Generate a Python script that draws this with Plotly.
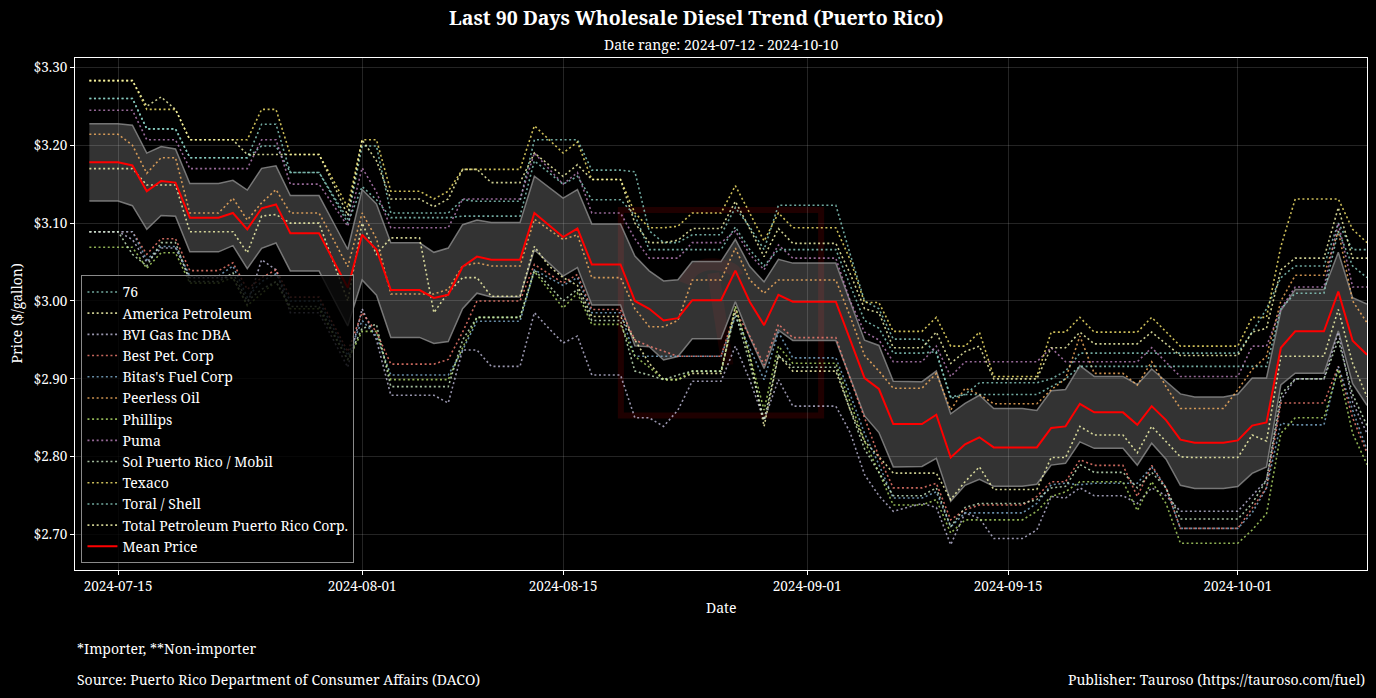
import numpy as np
import plotly.graph_objects as go

# ---------------- data ----------------
dates = [
    "2024-07-13",
    "2024-07-15", "2024-07-16", "2024-07-17", "2024-07-18", "2024-07-19", "2024-07-20",
    "2024-07-22", "2024-07-23", "2024-07-24", "2024-07-25", "2024-07-26", "2024-07-27",
    "2024-07-29", "2024-07-30", "2024-07-31", "2024-08-01", "2024-08-02", "2024-08-03",
    "2024-08-05", "2024-08-06", "2024-08-07", "2024-08-08", "2024-08-09", "2024-08-10",
    "2024-08-12", "2024-08-13", "2024-08-14", "2024-08-15", "2024-08-16", "2024-08-17",
    "2024-08-19", "2024-08-20", "2024-08-21", "2024-08-22", "2024-08-23", "2024-08-24",
    "2024-08-26", "2024-08-27", "2024-08-28", "2024-08-29", "2024-08-30", "2024-08-31",
    "2024-09-02", "2024-09-03", "2024-09-04", "2024-09-05", "2024-09-06", "2024-09-07",
    "2024-09-09", "2024-09-10", "2024-09-11", "2024-09-12", "2024-09-13", "2024-09-14",
    "2024-09-16", "2024-09-17", "2024-09-18", "2024-09-19", "2024-09-20", "2024-09-21",
    "2024-09-23", "2024-09-24", "2024-09-25", "2024-09-26", "2024-09-27", "2024-09-28",
    "2024-09-30", "2024-10-01", "2024-10-02", "2024-10-03", "2024-10-04", "2024-10-05",
    "2024-10-07", "2024-10-08", "2024-10-09", "2024-10-10",
]

price_76 = [
    3.260,
    3.260, 3.260, 3.221, 3.221, 3.221, 3.184,
    3.184, 3.184, 3.184, 3.199, 3.199, 3.165,
    3.165, 3.135, 3.105, 3.199, 3.199, 3.113,
    3.113, 3.113, 3.113, 3.130, 3.128, 3.128,
    3.128, 3.207, 3.207, 3.207, 3.207, 3.168,
    3.168, 3.166, 3.090, 3.075, 3.075, 3.085,
    3.085, 3.120, 3.095, 3.066, 3.123, 3.123,
    3.123, 3.123, 3.060, 3.000, 2.990, 2.951,
    2.951, 2.933, 2.877, 2.880, 2.895, 2.895,
    2.895, 2.895, 2.900, 2.910, 2.933, 2.933,
    2.933, 2.933, 2.933, 2.933, 2.933, 2.933,
    2.933, 2.933, 2.960, 2.990, 3.030, 3.045,
    3.045, 3.100, 3.066, 3.066,
]
price_america = [
    3.170,
    3.170, 3.170, 3.149, 3.149, 3.149, 3.089,
    3.089, 3.089, 3.062, 3.109, 3.111, 3.100,
    3.100, 3.050, 3.000, 3.100, 3.060, 3.081,
    3.081, 2.985, 3.011, 3.030, 3.030, 3.006,
    3.006, 3.070, 3.045, 3.030, 3.020, 2.980,
    2.980, 2.950, 2.920, 2.899, 2.899, 2.907,
    2.907, 2.993, 2.930, 2.839, 2.930, 2.910,
    2.910, 2.910, 2.860, 2.820, 2.800, 2.779,
    2.779, 2.779, 2.745, 2.768, 2.787, 2.758,
    2.758, 2.758, 2.799, 2.799, 2.839, 2.828,
    2.828, 2.805, 2.839, 2.820, 2.800, 2.799,
    2.799, 2.799, 2.828, 2.820, 2.929, 2.929,
    2.929, 2.989, 2.920, 2.877,
]
price_bvi = [
    3.089,
    3.089, 3.079, 3.050, 3.068, 3.068, 3.030,
    3.030, 3.030, 2.995, 3.053, 3.040, 2.985,
    2.985, 2.950, 2.915, 2.990, 2.950, 2.879,
    2.879, 2.879, 2.869, 2.937, 2.937, 2.916,
    2.916, 2.985, 2.965, 2.946, 2.955, 2.905,
    2.905, 2.850, 2.850, 2.839, 2.860, 2.897,
    2.897, 2.942, 2.899, 2.847, 2.899, 2.865,
    2.865, 2.865, 2.831, 2.777, 2.750, 2.730,
    2.740, 2.735, 2.687, 2.728, 2.721, 2.695,
    2.695, 2.706, 2.749, 2.747, 2.760, 2.750,
    2.750, 2.740, 2.760, 2.750, 2.730, 2.730,
    2.730, 2.730, 2.750, 2.770, 2.873, 2.900,
    2.900, 2.960, 2.870, 2.830,
]
price_best = [
    3.089,
    3.089, 3.089, 3.060, 3.080, 3.080, 3.039,
    3.039, 3.049, 3.015, 3.030, 3.040, 3.005,
    3.005, 2.970, 2.935, 2.985, 2.960, 2.919,
    2.919, 2.919, 2.925, 2.960, 3.000, 3.000,
    3.000, 3.047, 3.035, 3.023, 3.034, 2.989,
    2.989, 2.950, 2.942, 2.935, 2.929, 2.929,
    2.929, 2.987, 2.955, 2.918, 2.970, 2.953,
    2.953, 2.953, 2.900, 2.850, 2.800, 2.760,
    2.760, 2.766, 2.719, 2.732, 2.738, 2.738,
    2.738, 2.749, 2.768, 2.768, 2.796, 2.789,
    2.789, 2.749, 2.789, 2.760, 2.708, 2.708,
    2.708, 2.708, 2.734, 2.760, 2.869, 2.869,
    2.869, 2.916, 2.850, 2.805,
]
price_bitas = [
    3.089,
    3.089, 3.089, 3.053, 3.070, 3.070, 3.032,
    3.032, 3.045, 3.005, 3.025, 3.035, 3.000,
    3.000, 2.965, 2.930, 2.975, 2.955, 2.905,
    2.905, 2.905, 2.905, 2.937, 2.974, 2.974,
    2.974, 3.040, 3.030, 3.020, 3.030, 2.985,
    2.985, 2.929, 2.929, 2.929, 2.929, 2.929,
    2.929, 2.980, 2.940, 2.899, 2.960, 2.927,
    2.927, 2.927, 2.880, 2.830, 2.790, 2.747,
    2.747, 2.755, 2.710, 2.728, 2.728, 2.728,
    2.728, 2.740, 2.764, 2.766, 2.764, 2.766,
    2.766, 2.766, 2.787, 2.760, 2.708, 2.708,
    2.708, 2.708, 2.728, 2.760, 2.843, 2.841,
    2.841, 2.916, 2.860, 2.809,
]
price_peerless = [
    3.214,
    3.214, 3.200, 3.164, 3.184, 3.184, 3.113,
    3.113, 3.132, 3.104, 3.126, 3.143, 3.113,
    3.113, 3.079, 3.044, 3.113, 3.080, 3.009,
    3.009, 3.009, 3.015, 3.045, 3.049, 3.045,
    3.045, 3.105, 3.092, 3.079, 3.085, 3.030,
    3.030, 2.990, 2.967, 2.967, 2.975, 3.027,
    3.027, 3.068, 3.027, 3.010, 3.027, 3.027,
    3.027, 3.027, 2.980, 2.930, 2.910, 2.888,
    2.888, 2.907, 2.860, 2.888, 2.880, 2.868,
    2.868, 2.868, 2.886, 2.900, 2.955, 2.907,
    2.907, 2.892, 2.922, 2.890, 2.862, 2.862,
    2.862, 2.886, 2.912, 2.929, 3.000, 3.033,
    3.033, 3.090, 3.000, 2.972,
]
price_phillips = [
    3.069,
    3.069, 3.069, 3.042, 3.062, 3.062, 3.023,
    3.023, 3.030, 2.994, 3.010, 3.025, 2.990,
    2.990, 2.957, 2.924, 2.961, 2.961, 2.899,
    2.899, 2.899, 2.899, 2.940, 2.979, 2.979,
    2.979, 3.038, 3.015, 2.991, 3.010, 2.970,
    2.970, 2.929, 2.915, 2.899, 2.899, 2.910,
    2.910, 2.993, 2.930, 2.860, 2.942, 2.920,
    2.920, 2.920, 2.870, 2.820, 2.780, 2.738,
    2.738, 2.745, 2.702, 2.719, 2.719, 2.719,
    2.719, 2.730, 2.749, 2.755, 2.768, 2.768,
    2.768, 2.731, 2.768, 2.740, 2.689, 2.689,
    2.689, 2.689, 2.706, 2.727, 2.830, 2.850,
    2.850, 2.912, 2.830, 2.790,
]
price_puma = [
    3.245,
    3.245, 3.245, 3.207, 3.207, 3.207, 3.170,
    3.170, 3.170, 3.170, 3.207, 3.207, 3.150,
    3.150, 3.123, 3.096, 3.171, 3.140, 3.094,
    3.094, 3.094, 3.094, 3.131, 3.131, 3.131,
    3.131, 3.190, 3.170, 3.150, 3.165, 3.113,
    3.113, 3.080, 3.055, 3.055, 3.055, 3.075,
    3.075, 3.090, 3.060, 3.040, 3.072, 3.055,
    3.055, 3.055, 3.000, 2.960, 2.950, 2.922,
    2.922, 2.942, 2.903, 2.922, 2.922, 2.922,
    2.922, 2.922, 2.940, 2.922, 2.922, 2.922,
    2.922, 2.922, 2.940, 2.922, 2.903, 2.903,
    2.903, 2.903, 2.942, 2.942, 2.990, 3.018,
    3.018, 3.100, 3.018, 3.018,
]
price_sol = [
    3.089,
    3.089, 3.060, 3.045, 3.075, 3.075, 3.025,
    3.025, 3.036, 3.000, 3.015, 3.025, 2.993,
    2.993, 2.959, 2.925, 2.965, 2.970, 2.890,
    2.890, 2.890, 2.890, 2.950, 2.979, 2.979,
    2.979, 3.040, 3.020, 3.000, 3.015, 2.975,
    2.975, 2.910, 2.905, 2.899, 2.905, 2.910,
    2.910, 2.985, 2.920, 2.847, 2.930, 2.915,
    2.915, 2.915, 2.860, 2.810, 2.780, 2.750,
    2.750, 2.760, 2.710, 2.735, 2.740, 2.740,
    2.740, 2.745, 2.760, 2.762, 2.790, 2.780,
    2.780, 2.760, 2.780, 2.760, 2.720, 2.720,
    2.720, 2.720, 2.740, 2.770, 2.880, 2.900,
    2.900, 2.950, 2.880, 2.840,
]
price_texaco = [
    3.283,
    3.283, 3.283, 3.246, 3.246, 3.246, 3.207,
    3.207, 3.207, 3.207, 3.246, 3.246, 3.188,
    3.188, 3.155, 3.120, 3.207, 3.207, 3.141,
    3.141, 3.131, 3.141, 3.169, 3.169, 3.169,
    3.169, 3.225, 3.208, 3.190, 3.204, 3.156,
    3.156, 3.113, 3.094, 3.094, 3.096, 3.113,
    3.113, 3.148, 3.113, 3.077, 3.113, 3.094,
    3.094, 3.094, 3.053, 2.998, 2.998, 2.961,
    2.961, 2.979, 2.942, 2.942, 2.960, 2.903,
    2.903, 2.903, 2.960, 2.960, 2.979, 2.960,
    2.960, 2.960, 2.979, 2.960, 2.942, 2.942,
    2.942, 2.942, 2.979, 2.979, 3.070, 3.131,
    3.131, 3.131, 3.092, 3.075,
]
price_toral = [
    3.260,
    3.260, 3.260, 3.221, 3.221, 3.221, 3.184,
    3.184, 3.184, 3.184, 3.227, 3.227, 3.165,
    3.165, 3.133, 3.100, 3.147, 3.130, 3.107,
    3.107, 3.107, 3.107, 3.109, 3.109, 3.109,
    3.109, 3.180, 3.165, 3.150, 3.160, 3.130,
    3.130, 3.110, 3.066, 3.066, 3.066, 3.066,
    3.066, 3.095, 3.066, 3.045, 3.066, 3.066,
    3.066, 3.066, 3.020, 2.975, 2.965, 2.933,
    2.933, 2.935, 2.875, 2.880, 2.880, 2.880,
    2.880, 2.880, 2.890, 2.900, 2.916, 2.916,
    2.916, 2.916, 2.916, 2.916, 2.916, 2.916,
    2.916, 2.916, 2.916, 2.916, 2.990, 3.010,
    3.010, 3.090, 3.045, 3.030,
]
price_total = [
    3.283,
    3.283, 3.283, 3.250, 3.262, 3.246, 3.207,
    3.207, 3.207, 3.188, 3.188, 3.188, 3.188,
    3.188, 3.150, 3.110, 3.207, 3.180, 3.131,
    3.131, 3.121, 3.131, 3.169, 3.169, 3.152,
    3.152, 3.190, 3.175, 3.160, 3.175, 3.156,
    3.156, 3.100, 3.075, 3.075, 3.078, 3.093,
    3.093, 3.128, 3.093, 3.057, 3.093, 3.074,
    3.074, 3.074, 3.035, 2.990, 2.985, 2.940,
    2.940, 2.960, 2.920, 2.935, 2.942, 2.900,
    2.900, 2.900, 2.940, 2.940, 2.960, 2.945,
    2.945, 2.945, 2.960, 2.945, 2.930, 2.930,
    2.930, 2.930, 2.960, 2.965, 3.040, 3.055,
    3.055, 3.120, 3.055, 3.055,
]

mean_price = [
    3.178,
    3.178, 3.174, 3.141, 3.154, 3.152, 3.107,
    3.107, 3.113, 3.092, 3.119, 3.124, 3.087,
    3.087, 3.052, 3.017, 3.085, 3.066, 3.014,
    3.014, 3.004, 3.008, 3.044, 3.057, 3.053,
    3.053, 3.113, 3.097, 3.082, 3.093, 3.047,
    3.047, 3.000, 2.990, 2.975, 2.978, 3.001,
    3.001, 3.039, 2.999, 2.969, 3.008, 2.999,
    2.999, 2.999, 2.950, 2.901, 2.887, 2.842,
    2.842, 2.854, 2.799, 2.816, 2.825, 2.812,
    2.812, 2.812, 2.837, 2.839, 2.868, 2.857,
    2.857, 2.841, 2.865, 2.847, 2.822, 2.818,
    2.818, 2.821, 2.840, 2.844, 2.940, 2.961,
    2.961, 3.012, 2.949, 2.931,
]

company_names = [
    "76", "America Petroleum", "BVI Gas Inc DBA", "Best Pet. Corp",
    "Bitas's Fuel Corp", "Peerless Oil", "Phillips", "Puma",
    "Sol Puerto Rico / Mobil", "Texaco", "Toral / Shell",
    "Total Petroleum Puerto Rico Corp.",
]
company_prices = [
    price_76, price_america, price_bvi, price_best, price_bitas, price_peerless,
    price_phillips, price_puma, price_sol, price_texaco, price_toral, price_total,
]
company_colors = [
    "#8dd3c7", "#feffb3", "#bfbbd9", "#fa8174", "#81b1d2", "#fdb462",
    "#b3de69", "#bc82bd", "#ccebc4", "#ffed6f", "#8dd3c7", "#feffb3",
]

y_ticks = [2.70, 2.80, 2.90, 3.00, 3.10, 3.20, 3.30]
y_tick_labels = ["$2.70", "$2.80", "$2.90", "$3.00", "$3.10", "$3.20", "$3.30"]
x_ticks = ["2024-07-15", "2024-08-01", "2024-08-15", "2024-09-01", "2024-09-15", "2024-10-01"]

# ---------------- derived ----------------
P = np.array(company_prices)
m = np.array(mean_price)
sem = P.std(axis=0, ddof=1) / np.sqrt(P.shape[0])
ci_hi = m + 1.96 * sem
ci_lo = m - 1.96 * sem

FONT = "Noto Serif, DejaVu Serif, serif"

fig = go.Figure()

# confidence band
fig.add_trace(go.Scatter(x=dates, y=ci_lo, mode="lines",
                         line=dict(color="rgba(150,150,150,0.75)", width=1.5),
                         showlegend=False, hoverinfo="skip"))
fig.add_trace(go.Scatter(x=dates, y=ci_hi, mode="lines",
                         line=dict(color="rgba(150,150,150,0.75)", width=1.5),
                         fill="tonexty", fillcolor="rgba(255,255,255,0.2)",
                         showlegend=False, hoverinfo="skip"))

for name, vals, col in zip(company_names, company_prices, company_colors):
    fig.add_trace(go.Scatter(x=dates, y=vals, mode="lines", name=name,
                             line=dict(color=col, width=1.6, dash="2px,2.6px"),
                             opacity=0.8))

fig.add_trace(go.Scatter(x=dates, y=mean_price, mode="lines", name="Mean Price",
                         line=dict(color="#ff0000", width=2)))

# faint logo watermark
wm = "rgba(120,0,0,0.26)"
fig.add_shape(type="rect", xref="paper", yref="paper",
              x0=0.4225, x1=0.5775, y0=0.302, y1=0.703,
              line=dict(color=wm, width=6), layer="below")
fig.add_shape(type="path", xref="paper", yref="paper", layer="below",
              path="M 0.472,0.56 Q 0.478,0.60 0.495,0.597 Q 0.51,0.594 0.513,0.575",
              line=dict(color="rgba(120,0,0,0.16)", width=12))
fig.add_shape(type="path", xref="paper", yref="paper", layer="below",
              path="M 0.494,0.58 L 0.505,0.40",
              line=dict(color="rgba(120,0,0,0.16)", width=12))

fig.update_layout(
    width=1376, height=698,
    paper_bgcolor="#000000", plot_bgcolor="#000000",
    margin=dict(l=75, r=9, t=58, b=128),
    font=dict(family=FONT, color="#ffffff", size=14),
    title=dict(text="<b>Last 90 Days Wholesale Diesel Trend (Puerto Rico)</b>",
               x=0.506, xanchor="center", y=0.974, yanchor="middle",
               font=dict(size=19.5, family=FONT, color="#ffffff")),
    showlegend=True,
    legend=dict(x=0.005, y=0.013, xanchor="left", yanchor="bottom",
                traceorder="normal",
                bgcolor="rgba(0,0,0,0.8)", bordercolor="#8a8a8a", borderwidth=1,
                font=dict(size=14, family=FONT, color="#ffffff"),
                tracegroupgap=0, itemwidth=30),
    xaxis=dict(type="date", range=["2024-07-12", "2024-10-10"],
               tickvals=x_ticks, tickformat="%Y-%m-%d",
               showgrid=True, gridcolor="rgba(255,255,255,0.14)", gridwidth=1,
               showline=True, linecolor="#ffffff", linewidth=1, mirror=True,
               ticks="outside", ticklen=4, tickcolor="#ffffff",
               tickfont=dict(size=13.5), zeroline=False),
    yaxis=dict(range=[2.6546, 3.312], tickvals=y_ticks, ticktext=y_tick_labels,
               showgrid=True, gridcolor="rgba(255,255,255,0.14)", gridwidth=1,
               showline=True, linecolor="#ffffff", linewidth=1, mirror=True,
               ticks="outside", ticklen=4, tickcolor="#ffffff",
               tickfont=dict(size=13.5), zeroline=False),
    annotations=[
        dict(text="Date range: 2024-07-12 - 2024-10-10", xref="paper", yref="paper",
             x=0.5, y=1.0264, xanchor="center", yanchor="middle", showarrow=False,
             font=dict(size=14)),
        dict(text="Date", xref="paper", yref="paper", x=0.5, y=-0.0723,
             xanchor="center", yanchor="middle", showarrow=False, font=dict(size=14)),
        dict(text="Price ($/gallon)", xref="paper", yref="paper", x=-0.046, y=0.5,
             xanchor="center", yanchor="middle", textangle=-90, showarrow=False,
             font=dict(size=14)),
        dict(text="*Importer, **Non-importer", xref="paper", yref="paper", x=0, y=-0.1525,
             xanchor="left", yanchor="middle", showarrow=False, font=dict(size=14)),
        dict(text="Source: Puerto Rico Department of Consumer Affairs (DACO)",
             xref="paper", yref="paper", x=0, y=-0.2131,
             xanchor="left", yanchor="middle", showarrow=False, font=dict(size=14)),
        dict(text="Publisher: Tauroso (https://tauroso.com/fuel)",
             xref="paper", yref="paper", x=1, y=-0.2131,
             xanchor="right", yanchor="middle", showarrow=False, font=dict(size=14)),
    ],
)

fig.write_html("out.html")
